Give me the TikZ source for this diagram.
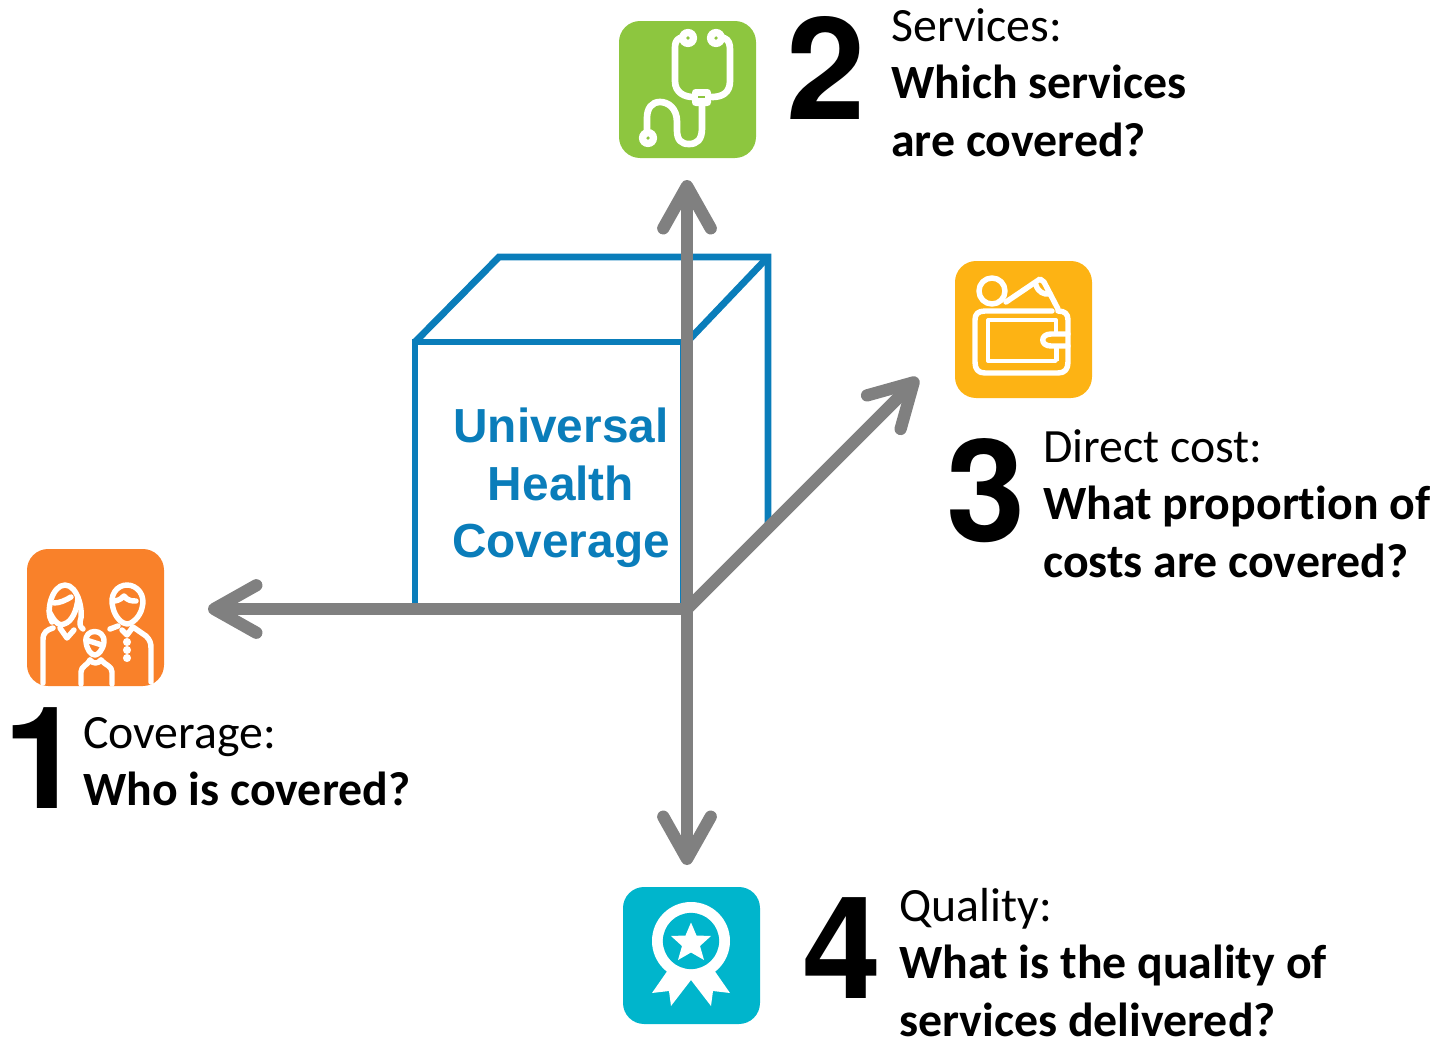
\documentclass[tikz,border=0pt]{standalone}
\usepackage{fontspec}
\setmainfont{Carlito}[Ligatures=NoCommon]
\newfontfamily\arialfont{Liberation Sans}
\newfontfamily\digitfont{TeX Gyre Heros}
\usetikzlibrary{arrows.meta}
\definecolor{uhcblue}{HTML}{0A7DBA}
\definecolor{axisgray}{HTML}{808080}
\definecolor{iconorange}{HTML}{F9812A}
\definecolor{icongreen}{HTML}{8DC63F}
\definecolor{iconyellow}{HTML}{FDB314}
\definecolor{iconteal}{HTML}{00B5CC}
\tikzset{
  axisline/.style={draw=axisgray, line width=7pt, -{Straight Barb[round, length=24pt, width=27pt, line width=7pt]}},
  cubeline/.style={draw=uhcblue, line width=3.9pt, line join=miter},
  iconbox/.style={rounded corners=12pt},
  iconline/.style={draw=white, line width=3.1pt, line cap=round, line join=round},
  numlabel/.style={font=\digitfont\bfseries\fontsize{81}{81}\selectfont, text=black, inner sep=0pt, anchor=base},
  asklabel/.style={font=\fontsize{27.2}{32.7}\selectfont, text=black, inner sep=0pt, anchor=north west, align=left},
  cubelabel/.style={font=\arialfont\bfseries\fontsize{27.2}{32.7}\selectfont, text=uhcblue, inner sep=0pt, align=center}
}
\begin{document}
\begin{tikzpicture}[x=0.02cm,y=-0.02cm]
\useasboundingbox (0,0) rectangle (1445,1038);

% cube
\draw[cubeline] (415,609) -- (415,342) -- (683,342) -- (683,609);
\draw[cubeline] (415,342) -- (499,257) -- (768,257) -- (768,525);
\draw[cubeline] (768,257) -- (687,342);
\draw[uhcblue, line width=1.6pt] (768,522) -- (690,600);
\node[cubelabel] (uhc) at (561,488) {Universal\\Health\\Coverage};

% axes
\coordinate (origin) at (687,609);
\coordinate (tipcoverage) at (208,609);
\coordinate (tipservices) at (687,180);
\coordinate (tipcost) at (918,378);
\coordinate (tipquality) at (687,865);
\draw[axisline] (origin) -- (tipcoverage);
\draw[axisline] (origin) -- (tipservices);
\draw[axisline] (origin) -- (tipcost);
\draw[axisline] (origin) -- (tipquality);

% icon 1, family
\fill[iconorange, iconbox] (27,549) rectangle (164,686);
\draw[iconline] (43,683) -- (43,640) .. controls (43,632) and (47,630) .. (53,628);
\draw[iconline] (52,622) .. controls (45,612) and (52,585) .. (65,585) .. controls (78,585) and (84,612) .. (80,622) .. controls (80,626) and (81,628) .. (83,629);
\draw[iconline] (49,611) .. controls (53,619) and (58,627) .. (64,624) .. controls (72,622) and (77,610) .. (78,598);
\draw[iconline] (54,603) .. controls (60,603) and (66,600) .. (71,597);
\draw[iconline] (60,628) -- (67,638) -- (74,630);
\draw[iconline] (113,608) .. controls (109,595) and (117,585) .. (127,585) .. controls (137,585) and (146,595) .. (142,608) .. controls (140,617) and (132,624) .. (127,624) .. controls (122,624) and (115,617) .. (113,608);
\draw[iconline] (115,601) .. controls (120,600) and (122,598) .. (124,596) .. controls (128,601) and (132,601) .. (136,601);
\draw[iconline] (110,629) -- (118,626);
\draw[iconline] (122,630) -- (127,635) -- (133,627) -- (146,636) .. controls (150,640) and (151,643) .. (151,648) -- (151,682);
\draw[iconline] (86,642) .. controls (84,628) and (105,628) .. (104,642) .. controls (103,650) and (98,655) .. (95,655) .. controls (91,655) and (87,650) .. (86,642);
\draw[iconline] (86,640) -- (102,645);
\draw[iconline] (81,684) -- (81,672) .. controls (81,666) and (88,665) .. (90,660);
\draw[iconline] (112,684) -- (112,672) .. controls (112,666) and (105,665) .. (101,660);
\draw[iconline] (90,660) .. controls (93,664) and (98,664) .. (101,660);
\foreach \doty in {642,650,658} \fill[white] (127,\doty) circle (2.3pt);

% icon 2, stethoscope
\fill[icongreen, iconbox] (619,21) rectangle (756,158);
\begin{scope}[line width=3.8pt]
\draw[iconline, line width=3.8pt] (682,38) -- (680,38) .. controls (676,40) and (675,43) .. (675,48) -- (675,81) .. controls (675,93) and (685,97) .. (693,97);
\draw[iconline, line width=3.8pt] (720,38) -- (724,38) .. controls (729,40) and (730,44) .. (730,50) -- (730,81) .. controls (730,93) and (722,97) .. (712,97);
\draw[iconline, line width=3.8pt] (702,104) -- (702,128) .. controls (702,140) and (697,144) .. (689,144) .. controls (681,144) and (677,140) .. (677,130) -- (677,122) .. controls (677,108) and (668,102) .. (660,102) .. controls (652,102) and (647,108) .. (647,118) -- (647,135);
\end{scope}
\fill[white, rounded corners=2pt] (692,89) rectangle (711,106);
\fill[icongreen] (698,96) rectangle (705,98);
\fill[white] (688,38) circle (5.2pt) (716,38) circle (5.2pt) (648,138) circle (5.2pt);
\fill[icongreen] (688,38) circle (1pt) (716,38) circle (1pt) (648,138) circle (1pt);

% icon 3, wallet
\fill[iconyellow, iconbox] (955,261) rectangle (1092,398);
\draw[iconline] (992,291) circle (7.4pt);
\draw[iconline] (1006,302) -- (1040,279) -- (1044,282) -- (1058,309);
\draw[iconline] (1036,285) .. controls (1038,292) and (1044,295) .. (1050,294);
\fill[iconyellow] (980,307) rectangle (1052,320);
\draw[iconline] (1052,311) -- (985,311) .. controls (978,311) and (975,314) .. (975,320) -- (975,362) .. controls (975,369) and (978,373) .. (985,373) -- (1058,373) .. controls (1065,373) and (1068,369) .. (1068,362) -- (1068,320) .. controls (1068,314) and (1065,311) .. (1058,311);
\draw[iconline, line width=1.9pt] (988,320) -- (1056,320) -- (1056,332);
\draw[iconline, line width=1.9pt] (988,320) -- (988,361) -- (1056,361) -- (1056,346);
\draw[iconline] (1068,334) -- (1051,334) .. controls (1040,334) and (1040,346) .. (1051,346) -- (1068,346);
\fill[white] (1054,346) rectangle (1059,361);

% icon 4, rosette
\fill[iconteal, iconbox] (623,887) rectangle (760,1024);
\fill[white] (668,970) -- (652,993) -- (669,991) -- (671,1006) -- (691,980) -- (711,1006) -- (713,991) -- (730,993) -- (714,970) -- cycle;
\fill[white] (691,941) circle (22.2pt);
\fill[iconteal] (691,941) circle (16pt);
\fill[white] (691,922.5) -- (696.5,935.5) -- (711,936) -- (700,946) -- (704,960) -- (691,952.5) -- (678,960) -- (682,946) -- (671,936) -- (685.5,935.5) -- cycle;

% numbers and questions
\node[numlabel] (num1) at (43,808) {1};
\node[asklabel] (ask1) at (83,717) {Coverage:\\\textbf{Who is covered?}};
\node[numlabel] (num2) at (826,119) {2};
\node[asklabel] (ask2) at (891,8) {Services:\\\textbf{Which services}\\\textbf{are covered?}};
\node[numlabel] (num3) at (986,541) {3};
\node[asklabel] (ask3) at (1043,429) {Direct cost:\\\textbf{What proportion of}\\\textbf{costs are covered?}};
\node[numlabel] (num4) at (842,998) {4};
\node[asklabel] (ask4) at (899,888) {Quality:\\\textbf{What is the quality of}\\\textbf{services delivered?}};
\end{tikzpicture}
\end{document}
